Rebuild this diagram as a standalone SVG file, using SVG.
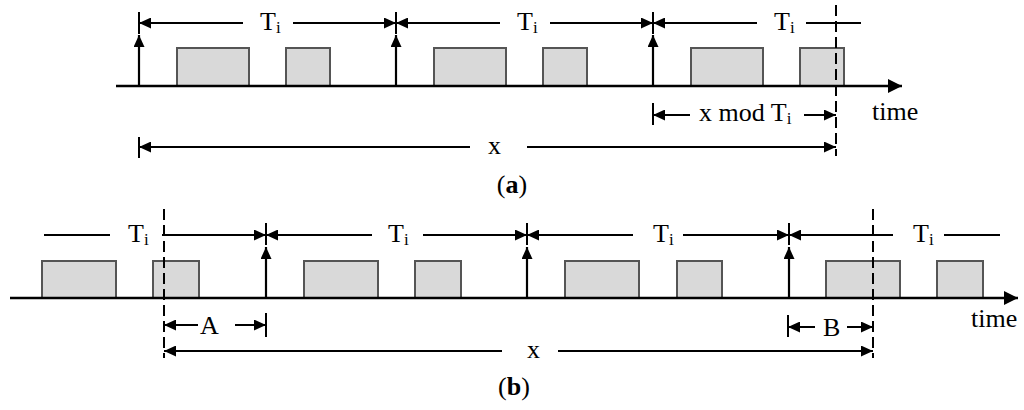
<svg xmlns="http://www.w3.org/2000/svg" width="1024" height="410" viewBox="0 0 1024 410">
<style>
.ln{stroke:#000;stroke-width:2;fill:none}
.dim{stroke:#000;stroke-width:2;fill:none;marker-end:url(#ah)}
.up{stroke:#000;stroke-width:2.2;fill:none;marker-end:url(#ah)}
.axis{stroke:#000;stroke-width:2.4;fill:none;marker-end:url(#ax)}
.dash{stroke:#000;stroke-width:2;fill:none;stroke-dasharray:11 5}
.job{fill:#d9d9d9;stroke:#555;stroke-width:2}
text{font-family:"Liberation Serif","Times New Roman",serif;font-size:26px;fill:#000}
.sub{font-size:17px}
.cap{font-weight:bold}
</style>
<defs>
<marker id="ah" viewBox="0 0 12 11" refX="12" refY="5.5" markerWidth="12" markerHeight="11" markerUnits="userSpaceOnUse" orient="auto"><path d="M0,0 L12,5.5 L0,11 z" fill="#000"/></marker>
<marker id="ax" viewBox="0 0 14 14" refX="14" refY="7" markerWidth="14" markerHeight="14" markerUnits="userSpaceOnUse" orient="auto"><path d="M0,0 L14,7 L0,14 z" fill="#000"/></marker>
</defs>

<g id="part-a">
  <g id="a-jobs">
    <rect class="job" x="177" y="48" width="72" height="38"/>
    <rect class="job" x="286" y="48" width="44" height="38"/>
    <rect class="job" x="434" y="48" width="72" height="38"/>
    <rect class="job" x="543" y="48" width="44" height="38"/>
    <rect class="job" x="691" y="48" width="72" height="38"/>
    <rect class="job" x="800" y="48" width="44" height="38"/>
  </g>
  <g id="a-connectors">
    <line class="axis" x1="116" y1="86" x2="902" y2="86"/>
    <line class="up" x1="139" y1="86" x2="139" y2="35"/>
    <line class="up" x1="396" y1="86" x2="396" y2="35"/>
    <line class="up" x1="653" y1="86" x2="653" y2="35"/>
    <line class="ln" x1="139" y1="12" x2="139" y2="34"/>
    <line class="ln" x1="396" y1="12" x2="396" y2="34"/>
    <line class="ln" x1="653" y1="12" x2="653" y2="34"/>
    <line class="dim" x1="243" y1="23" x2="139" y2="23"/>
    <line class="dim" x1="293" y1="23" x2="396" y2="23"/>
    <line class="dim" x1="500" y1="23" x2="396" y2="23"/>
    <line class="dim" x1="550" y1="23" x2="653" y2="23"/>
    <line class="dim" x1="757" y1="23" x2="653" y2="23"/>
    <line class="ln" x1="806" y1="23" x2="861" y2="23"/>
    <line class="dash" x1="836" y1="5" x2="836" y2="156"/>
    <line class="ln" x1="653" y1="103" x2="653" y2="125"/>
    <line class="dim" x1="690" y1="115" x2="653" y2="115"/>
    <line class="dim" x1="804" y1="115" x2="836" y2="115"/>
    <line class="ln" x1="139" y1="137" x2="139" y2="158"/>
    <line class="dim" x1="470" y1="147" x2="139" y2="147"/>
    <line class="dim" x1="527" y1="147" x2="836" y2="147"/>
  </g>
  <g id="a-labels">
    <text x="260" y="30">T<tspan class="sub" dy="3">i</tspan></text>
    <text x="517" y="30">T<tspan class="sub" dy="3">i</tspan></text>
    <text x="774" y="30">T<tspan class="sub" dy="3">i</tspan></text>
    <text x="699" y="121" font-size="27">x mod T<tspan class="sub" dy="3">i</tspan></text>
    <text x="872" y="120">time</text>
    <text x="488" y="154" font-size="30">x</text>
    <text x="512" y="193" text-anchor="middle" font-size="27">(<tspan class="cap">a</tspan>)</text>
  </g>
</g>

<g id="part-b">
  <g id="b-jobs">
    <rect class="job" x="42" y="261" width="74" height="37"/>
    <rect class="job" x="153" y="261" width="46" height="37"/>
    <rect class="job" x="304" y="261" width="74" height="37"/>
    <rect class="job" x="415" y="261" width="46" height="37"/>
    <rect class="job" x="565" y="261" width="74" height="37"/>
    <rect class="job" x="677" y="261" width="45" height="37"/>
    <rect class="job" x="826" y="261" width="74" height="37"/>
    <rect class="job" x="937" y="261" width="46" height="37"/>
  </g>
  <g id="b-connectors">
    <line class="axis" x1="10" y1="298" x2="1018" y2="298"/>
    <line class="up" x1="266" y1="298" x2="266" y2="247"/>
    <line class="up" x1="527" y1="298" x2="527" y2="247"/>
    <line class="up" x1="789" y1="298" x2="789" y2="247"/>
    <line class="ln" x1="266" y1="223" x2="266" y2="245"/>
    <line class="ln" x1="527" y1="223" x2="527" y2="245"/>
    <line class="ln" x1="789" y1="223" x2="789" y2="245"/>
    <line class="ln" x1="44" y1="235" x2="110" y2="235"/>
    <line class="dim" x1="162" y1="235" x2="266" y2="235"/>
    <line class="dim" x1="372" y1="235" x2="266" y2="235"/>
    <line class="dim" x1="423" y1="235" x2="527" y2="235"/>
    <line class="dim" x1="633" y1="235" x2="527" y2="235"/>
    <line class="dim" x1="683" y1="235" x2="789" y2="235"/>
    <line class="dim" x1="893" y1="235" x2="789" y2="235"/>
    <line class="ln" x1="944" y1="235" x2="1000" y2="235"/>
    <line class="dash" x1="164" y1="209" x2="164" y2="358"/>
    <line class="dash" x1="873" y1="209" x2="873" y2="358"/>
    <line class="ln" x1="266" y1="313" x2="266" y2="337"/>
    <line class="dim" x1="198" y1="325" x2="164" y2="325"/>
    <line class="dim" x1="235" y1="325" x2="266" y2="325"/>
    <line class="ln" x1="788" y1="315" x2="788" y2="337"/>
    <line class="dim" x1="815" y1="327" x2="788" y2="327"/>
    <line class="dim" x1="847" y1="327" x2="873" y2="327"/>
    <line class="dim" x1="502" y1="351" x2="164" y2="351"/>
    <line class="dim" x1="558" y1="351" x2="873" y2="351"/>
  </g>
  <g id="b-labels">
    <text x="128" y="242">T<tspan class="sub" dy="3">i</tspan></text>
    <text x="388" y="242">T<tspan class="sub" dy="3">i</tspan></text>
    <text x="653" y="242">T<tspan class="sub" dy="3">i</tspan></text>
    <text x="913" y="242">T<tspan class="sub" dy="3">i</tspan></text>
    <text x="200" y="334">A</text>
    <text x="823" y="336">B</text>
    <text x="971" y="327">time</text>
    <text x="527" y="358" font-size="30">x</text>
    <text x="514" y="395" text-anchor="middle" font-size="27">(<tspan class="cap">b</tspan>)</text>
  </g>
</g>
</svg>
